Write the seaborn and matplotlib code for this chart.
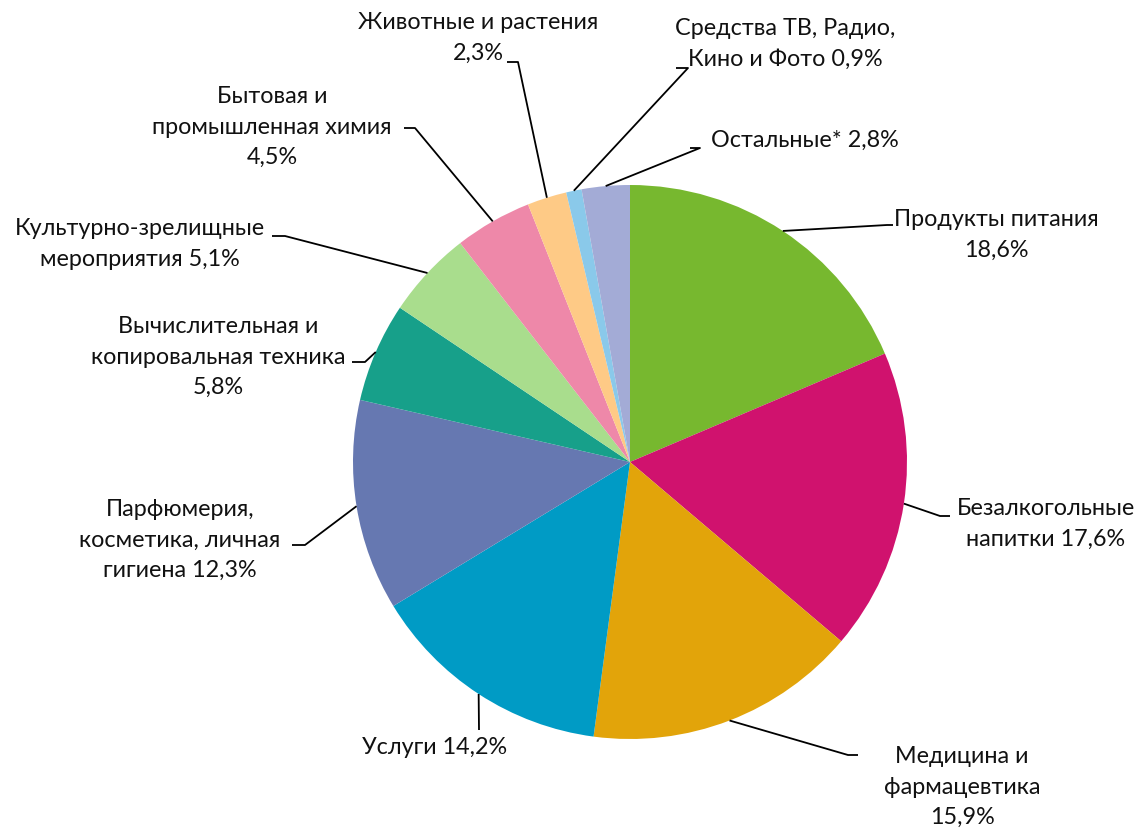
import numpy as np
import matplotlib
matplotlib.use("Agg")
import matplotlib.pyplot as plt
import seaborn as sns

sns.set_theme(style="white")
plt.rcParams['font.family'] = ['Lato', 'DejaVu Sans']

# Data
categories = [
    "Продукты питания\n18,6%",
    "Безалкогольные\nнапитки 17,6%",
    "Медицина и\nфармацевтика\n15,9%",
    "Услуги 14,2%",
    "Парфюмерия,\nкосметика, личная\nгигиена 12,3%",
    "Вычислительная и\nкопировальная техника\n5,8%",
    "Культурно-зрелищные\nмероприятия 5,1%",
    "Бытовая и\nпромышленная химия\n4,5%",
    "Животные и растения\n2,3%",
    "Средства ТВ, Радио,\nКино и Фото 0,9%",
    "Остальные* 2,8%",
]
shares = [18.6, 17.6, 15.9, 14.2, 12.3, 5.8, 5.1, 4.5, 2.3, 0.9, 2.8]
colors = ["#77B82F", "#D0126E", "#E2A40A", "#009BC5", "#6678B1", "#17A08A",
          "#A9DD8D", "#EE88A9", "#FECA86", "#8AC9EA", "#A3ABD6"]

# Layout (pixel coordinates, y measured from the top of the image)
W, H = 1145, 831
CX, CY, R = 630, 462, 277
# text centre, leader knee, tick end
label_pos = [
    ((996, 235), (887, 225), (893, 225)),
    ((1046, 524), (940, 516), (950, 516)),
    ((962, 787), (848, 755), (858, 755)),
    ((435, 748), (479, 730), (479, 730)),
    ((180, 540), (305, 545), (292, 545)),
    ((218, 357), (365, 362), (352, 362)),
    ((140, 244), (285, 236), (272, 236)),
    ((272, 127), (415, 128), (404, 128)),
    ((478, 38), (518, 62), (507, 62)),
    ((785, 44), (688, 68), (676, 68)),
    ((805, 140), (700, 148), (690, 148)),
]


def fy(py):
    return H - py


fig = plt.figure(figsize=(W / 100, H / 100), dpi=100)
ax = fig.add_axes([0, 0, 1, 1])

wedges, _ = ax.pie(shares, colors=colors, startangle=90, counterclock=False,
                   center=(CX, fy(CY)), radius=R, frame=True,
                   wedgeprops=dict(linewidth=0))
ax.set_xlim(0, W)
ax.set_ylim(0, H)
ax.axis("off")

for w, text, (tpos, knee, tick) in zip(wedges, categories, label_pos):
    ang = np.deg2rad((w.theta1 + w.theta2) / 2)
    ex = CX + R * np.cos(ang)
    ey = fy(CY) + R * np.sin(ang)
    ax.plot([ex, knee[0], tick[0]], [ey, fy(knee[1]), fy(tick[1])],
            color="black", lw=1.3, solid_capstyle="butt")
    ax.text(tpos[0], fy(tpos[1]), text, ha="center", va="center",
            multialignment="center", fontsize=16.8, color="#111111",
            linespacing=1.55)

fig.savefig("out.png", dpi=100)
